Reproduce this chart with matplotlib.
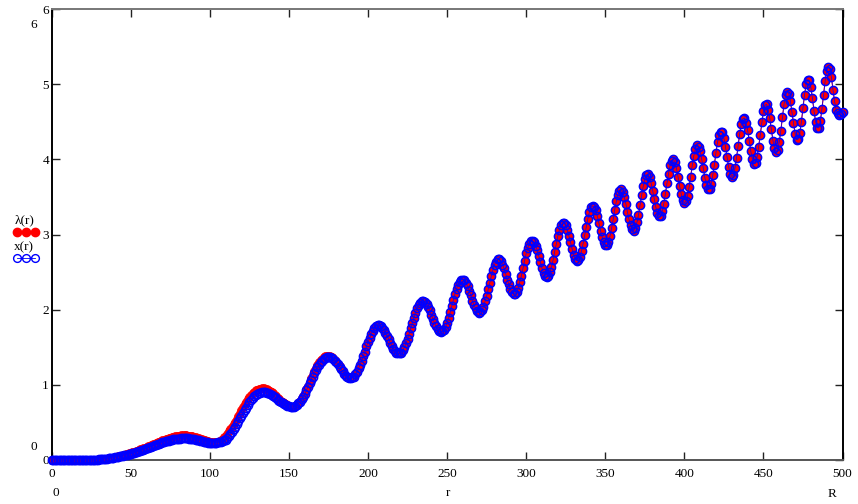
import numpy as np
import matplotlib
matplotlib.use("Agg")
import matplotlib.pyplot as plt
from matplotlib.lines import Line2D

# lambda(r), one value per integer r = 0..500
lam = [
    0, 0, 0, 0, 0, 0, 0, 0, 0, 0,
    0, 0, 0, 0, 0, 0, 0, 0, 0, 0,
    0, 0, 0, 0, 0, 0, 0, 0, 0.003, 0.005,
    0.007, 0.009, 0.011, 0.013, 0.016, 0.019, 0.022, 0.025, 0.029, 0.033,
    0.037, 0.042, 0.047, 0.052, 0.057, 0.063, 0.069, 0.075, 0.081, 0.088,
    0.095, 0.102, 0.109, 0.116, 0.124, 0.132, 0.140, 0.148, 0.156, 0.165,
    0.174, 0.183, 0.192, 0.201, 0.210, 0.219, 0.228, 0.237, 0.246, 0.255,
    0.263, 0.271, 0.279, 0.286, 0.293, 0.299, 0.305, 0.310, 0.315, 0.319,
    0.322, 0.325, 0.327, 0.328, 0.328, 0.327, 0.325, 0.322, 0.318, 0.313,
    0.308, 0.302, 0.296, 0.289, 0.282, 0.275, 0.268, 0.261, 0.255, 0.249,
    0.244, 0.240, 0.237, 0.236, 0.237, 0.240, 0.245, 0.26, 0.28, 0.30,
    0.32, 0.35, 0.38, 0.41, 0.44, 0.48, 0.51, 0.55, 0.59, 0.63,
    0.66, 0.70, 0.74, 0.77, 0.81, 0.84, 0.87, 0.89, 0.91, 0.925,
    0.935, 0.945, 0.95, 0.955, 0.955, 0.95, 0.94, 0.93, 0.92, 0.905,
    0.89, 0.87, 0.85, 0.83, 0.81, 0.79, 0.77, 0.76, 0.74, 0.73,
    0.72, 0.71, 0.71, 0.71, 0.72, 0.74, 0.76, 0.78, 0.82, 0.85,
    0.89, 0.94, 0.99, 1.04, 1.09, 1.13, 1.18, 1.22, 1.26, 1.30,
    1.33, 1.35, 1.37, 1.39, 1.39, 1.39, 1.38, 1.37, 1.35, 1.33,
    1.31, 1.28, 1.245, 1.21, 1.18, 1.15, 1.12, 1.11, 1.09, 1.09,
    1.10, 1.11, 1.14, 1.17, 1.22, 1.27, 1.32, 1.38, 1.44, 1.51,
    1.57, 1.62, 1.68, 1.72, 1.75, 1.78, 1.79, 1.79, 1.78, 1.76,
    1.73, 1.69, 1.65, 1.61, 1.56, 1.52, 1.48, 1.45, 1.43, 1.42,
    1.42, 1.43, 1.46, 1.50, 1.55, 1.61, 1.68, 1.75, 1.82, 1.89,
    1.96, 2.02, 2.06, 2.09, 2.11, 2.11, 2.10, 2.07, 2.03, 1.99,
    1.93, 1.88, 1.82, 1.78, 1.74, 1.71, 1.70, 1.71, 1.73, 1.77,
    1.82, 1.89, 1.97, 2.05, 2.13, 2.21, 2.28, 2.33, 2.37, 2.40,
    2.40, 2.39, 2.35, 2.31, 2.25, 2.19, 2.12, 2.06, 2.02, 1.98,
    1.96, 1.97, 1.99, 2.04, 2.11, 2.18, 2.27, 2.36, 2.45, 2.53,
    2.60, 2.64, 2.67, 2.67, 2.65, 2.60, 2.55, 2.48, 2.40, 2.34,
    2.27, 2.23, 2.21, 2.21, 2.24, 2.29, 2.37, 2.45, 2.55, 2.65,
    2.75, 2.82, 2.88, 2.92, 2.92, 2.90, 2.85, 2.79, 2.71, 2.63,
    2.55, 2.49, 2.45, 2.44, 2.45, 2.50, 2.57, 2.66, 2.77, 2.87,
    2.98, 3.06, 3.12, 3.15, 3.15, 3.12, 3.06, 2.98, 2.90, 2.81,
    2.73, 2.68, 2.65, 2.66, 2.70, 2.78, 2.88, 2.99, 3.10, 3.21,
    3.30, 3.36, 3.38, 3.37, 3.32, 3.24, 3.15, 3.05, 2.97, 2.90,
    2.86, 2.86, 2.90, 2.98, 3.08, 3.20, 3.33, 3.44, 3.53, 3.58,
    3.60, 3.57, 3.50, 3.41, 3.30, 3.20, 3.12, 3.07, 3.05, 3.09,
    3.16, 3.26, 3.39, 3.52, 3.64, 3.74, 3.79, 3.80, 3.76, 3.68,
    3.58, 3.47, 3.36, 3.28, 3.24, 3.25, 3.31, 3.41, 3.54, 3.68,
    3.81, 3.92, 3.98, 4.00, 3.96, 3.88, 3.77, 3.65, 3.54, 3.46,
    3.42, 3.44, 3.51, 3.63, 3.77, 3.92, 4.05, 4.14, 4.19, 4.17,
    4.11, 4.00, 3.88, 3.75, 3.66, 3.60, 3.61, 3.67, 3.79, 3.93,
    4.09, 4.23, 4.33, 4.37, 4.36, 4.28, 4.17, 4.03, 3.90, 3.81,
    3.77, 3.79, 3.88, 4.02, 4.18, 4.34, 4.47, 4.54, 4.55, 4.49,
    4.39, 4.25, 4.11, 4.00, 3.94, 3.95, 4.03, 4.17, 4.33, 4.50,
    4.64, 4.72, 4.73, 4.66, 4.55, 4.40, 4.25, 4.15, 4.10, 4.13,
    4.23, 4.38, 4.56, 4.73, 4.85, 4.90, 4.87, 4.78, 4.63, 4.48,
    4.34, 4.26, 4.27, 4.35, 4.50, 4.68, 4.86, 5.00, 5.06, 5.05,
    4.96, 4.81, 4.64, 4.50, 4.42, 4.42, 4.51, 4.67, 4.86, 5.04,
    5.18, 5.23, 5.20, 5.09, 4.92, 4.77, 4.66, 4.61, 4.59, 4.60,
    4.63,
]

# x(r) for r = 0..185 (beyond that it coincides with lambda(r))
x_low = [
    0, 0, 0, 0, 0, 0, 0, 0, 0, 0,
    0, 0, 0, 0, 0, 0, 0, 0, 0, 0,
    0, 0, 0, 0, 0, 0, 0, 0, 0.003, 0.005,
    0.007, 0.009, 0.011, 0.013, 0.016, 0.019, 0.022, 0.025, 0.029, 0.033,
    0.037, 0.041, 0.045, 0.048, 0.052, 0.057, 0.062, 0.067, 0.071, 0.077,
    0.083, 0.089, 0.095, 0.102, 0.109, 0.116, 0.123, 0.130, 0.138, 0.146,
    0.154, 0.162, 0.170, 0.178, 0.186, 0.194, 0.202, 0.210, 0.218, 0.226,
    0.233, 0.240, 0.247, 0.253, 0.259, 0.264, 0.269, 0.273, 0.277, 0.280,
    0.282, 0.285, 0.287, 0.288, 0.289, 0.288, 0.287, 0.285, 0.282, 0.277,
    0.273, 0.269, 0.265, 0.260, 0.255, 0.250, 0.245, 0.240, 0.236, 0.232,
    0.229, 0.227, 0.226, 0.227, 0.230, 0.235, 0.235, 0.24, 0.25, 0.26,
    0.27, 0.295, 0.32, 0.345, 0.372, 0.41, 0.44, 0.478, 0.515, 0.555,
    0.585, 0.625, 0.665, 0.695, 0.735, 0.767, 0.80, 0.822, 0.845, 0.862,
    0.875, 0.887, 0.893, 0.90, 0.903, 0.902, 0.895, 0.888, 0.882, 0.87,
    0.857, 0.838, 0.82, 0.803, 0.787, 0.77, 0.753, 0.745, 0.728, 0.72,
    0.712, 0.705, 0.706, 0.707, 0.717, 0.736, 0.755, 0.775, 0.813, 0.84,
    0.878, 0.925, 0.972, 1.02, 1.068, 1.109, 1.153, 1.195, 1.234, 1.267,
    1.30, 1.323, 1.345, 1.363, 1.37, 1.372, 1.369, 1.359, 1.342, 1.322,
    1.30, 1.273, 1.242, 1.208, 1.18, 1.15,
]

x_ticks = [0, 50, 100, 150, 200, 250, 300, 350, 400, 450, 500]
y_ticks = [0, 1, 2, 3, 4, 5, 6]

x_vals = x_low + lam[len(x_low):]
r = np.arange(len(lam))

plt.rcParams['font.family'] = ['Liberation Serif', 'DejaVu Serif']
FS = 9.5

W, H = 858, 504
fig = plt.figure(figsize=(W / 100, H / 100), dpi=100)
x0, x1, yb, yt = 51.7, 842.5, 460.0, 9.0
ax = fig.add_axes([x0 / W, 1 - yb / H, (x1 - x0) / W, (yb - yt) / H])

ax.plot(r, lam, color='#ff0000', lw=0.8, marker='o', ms=5.7,
        mfc='#ff0000', mec='#ff0000', mew=0.5, clip_on=False, zorder=3)
ax.plot(r, x_vals, color='#0000ff', lw=0.5, marker='o', ms=5.9,
        mfc='none', mec='#0000ff', mew=1.1, clip_on=False, zorder=4)

ax.set_xlim(0, 500)
ax.set_ylim(0, 6)
ax.set_xticks(x_ticks)
ax.set_xticklabels([str(v) for v in x_ticks], fontsize=FS)
ax.set_yticks(y_ticks)
ax.set_yticklabels([str(v) for v in y_ticks], fontsize=FS)
ax.tick_params(axis='both', direction='in', length=5.8, width=1.0,
               color='#222222', top=True, right=True)
ax.tick_params(axis='x', pad=5.5)
ax.tick_params(axis='y', pad=2.0)

for side, col in (('left', '#000000'), ('right', '#000000'),
                  ('top', '#777777'), ('bottom', '#555555')):
    ax.spines[side].set_color(col)
    ax.spines[side].set_linewidth(1.4)
ax.set_facecolor('white')

def ftext(px, py, s, **kw):
    fig.text(px / W, 1 - py / H, s, fontsize=FS, **kw)

# axis limit labels
ftext(34, 25.5, '6', ha='center', va='center')
ftext(33.7, 446.7, '0', ha='center', va='center')
ftext(56.3, 493.3, '0', ha='center', va='center')
ftext(832, 494, 'R', ha='center', va='center')
ftext(448, 493, 'r', ha='center', va='center')

# legend
ftext(25, 220.5, 'λ(r)', ha='center', va='center')
ftext(24, 247.7, 'x(r)', ha='center', va='center')
lx = [17 / W, 26 / W, 35 / W]
fig.add_artist(Line2D(lx, [1 - 232 / H] * 3, ls='none', marker='o', ms=6.0,
                      mfc='#ff0000', mec='#ff0000', transform=fig.transFigure))
fig.add_artist(Line2D(lx, [1 - 258 / H] * 3, color='#0000ff', lw=0.6,
                      marker='o', ms=5.6, mfc='none', mec='#0000ff', mew=1.0,
                      transform=fig.transFigure))

fig.savefig('out.png', dpi=100, facecolor='white')
